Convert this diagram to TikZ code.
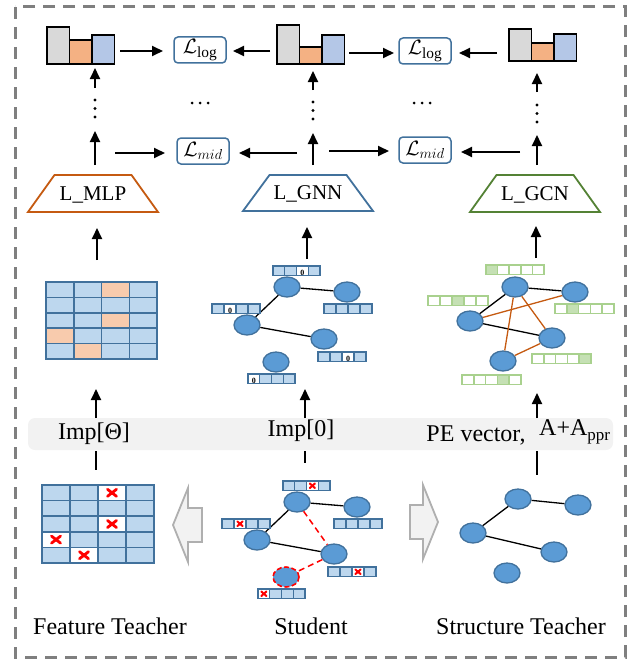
\documentclass[tikz,border=0pt]{standalone}
\usepackage{fontspec}
\setmainfont{Liberation Serif}
\usetikzlibrary{arrows.meta,shapes.geometric}
\definecolor{blueB}{HTML}{41719C}
\definecolor{blueL}{HTML}{BDD7EE}
\definecolor{nodeF}{HTML}{5B9BD5}
\definecolor{orangeC}{HTML}{F8CBAD}
\definecolor{barGray}{HTML}{D9D9D9}
\definecolor{barOrange}{HTML}{F4B183}
\definecolor{barBlue}{HTML}{B4C7E7}
\definecolor{greenB}{HTML}{A9D18E}
\definecolor{greenF}{HTML}{C5E0B4}
\definecolor{trapOrange}{HTML}{C55A11}
\definecolor{trapGreen}{HTML}{548235}
\definecolor{bandF}{HTML}{F2F2F2}
\definecolor{hollowB}{HTML}{AFAFAF}
\definecolor{borderC}{HTML}{7F7F7F}
\definecolor{redX}{HTML}{FF0000}

\newcommand\bvec[6]{%
  \foreach \i in {0,1,2,3}{%
    \ifnum\i=#5\relax\def\cf{white}\else\def\cf{blueL}\fi
    \draw[vcell,fill=\cf] ({#2+\i*#4/4},#3) rectangle ({#2+(\i+1)*#4/4},{#3+9.5});
  }%
  \pgfmathsetmacro\mx{#2+(#5+0.5)*#4/4}%
  \pgfmathsetmacro\my{#3+4.75}%
  \ifcase#6\relax
  \or \node[zerotxt] (#1) at (\mx,\my+2) {0};
  \or \draw[redx] (\mx-2.6,\my-2.3) -- (\mx+2.6,\my+2.3) (\mx-2.6,\my+2.3) -- (\mx+2.6,\my-2.3);
  \fi
}
\newcommand\gvec[4]{%
  \foreach \i in {0,1,2,3,4}{%
    \ifnum\i=#4\relax\def\cf{greenF}\else\def\cf{white}\fi
    \draw[gcell,fill=\cf] ({#1+\i*#3/5},#2) rectangle ({#1+(\i+1)*#3/5},{#2+9.5});
  }%
}
% trapezoid outline: #1 colour, #2 centre x, #3 top y, #4 bottom y
\newcommand\trapline[4]{%
  \draw[draw=#1, line width=1.8, line join=miter] ({#2-65},#4) -- ({#2-38.5},#3) -- ({#2+38.5},#3) -- ({#2+65},#4) -- cycle;
}

\begin{document}
\begin{tikzpicture}[x=1pt,y=-1pt,
  arr/.style={-{Triangle[length=11pt,width=10pt]}, line width=1.8},
  plainline/.style={line width=1.8},
  bar/.style={draw=black, line width=1.8, inner sep=0, outer sep=0, anchor=south west, minimum width=22.5},
  loss/.style={draw=blueB, line width=1.5, rounded corners=4, minimum width=52, minimum height=26, inner sep=0, font=\fontsize{22}{24}\selectfont},
  traptxt/.style={inner sep=0, font=\fontsize{21}{24}\selectfont},
  mcell/.style={draw=blueB, fill=blueL, line width=1.5},
  vcell/.style={draw=blueB, line width=1.3},
  gcell/.style={draw=greenB, line width=1.5},
  zerotxt/.style={inner sep=0, font=\fontsize{8}{8}\selectfont\bfseries},
  redx/.style={draw=redX, line width=2, line cap=round},
  gnode/.style={ellipse, draw=blueB, fill=nodeF, line width=1.3, minimum width=26, minimum height=20, inner sep=0},
  gedge/.style={line width=1.3, black},
  oedge/.style={line width=1.3, trapOrange},
  redge/.style={line width=1.5, redX, dash pattern=on 6pt off 4pt},
  hollow/.style={draw=hollowB, fill=bandF, line width=1.8, line join=miter},
  lbl/.style={inner sep=0, font=\fontsize{24}{28}\selectfont},
  border/.style={draw=borderC, line width=3, dash pattern=on 12pt off 8pt}
]
\useasboundingbox (0,0) rectangle (641,661);
\draw[border] (15,7) rectangle (625,657);

% ---- bar charts ----
\node[bar,fill=barGray,minimum height=37] (c1g) at (47,64) {};
\node[bar,fill=barOrange,minimum height=24] (c1o) at (69.5,64) {};
\node[bar,fill=barBlue,minimum height=29] (c1b) at (92,64) {};
\node[bar,fill=barGray,minimum height=39] (c2g) at (277,64) {};
\node[bar,fill=barOrange,minimum height=17] (c2o) at (299.5,64) {};
\node[bar,fill=barBlue,minimum height=29] (c2b) at (322,64) {};
\node[bar,fill=barGray,minimum height=32] (c3g) at (509,61) {};
\node[bar,fill=barOrange,minimum height=18] (c3o) at (531.5,61) {};
\node[bar,fill=barBlue,minimum height=27] (c3b) at (554,61) {};

% ---- loss boxes ----
\node[loss] (Llog1) at (200,50) {$\mathcal{L}_{\log}$};
\node[loss] (Llog2) at (425,51) {$\mathcal{L}_{\log}$};
\node[loss] (Lmid1) at (203,151) {$\mathcal{L}_{mid}$};
\node[loss] (Lmid2) at (425,150) {$\mathcal{L}_{mid}$};

\coordinate (a1) at (120,51);  \coordinate (a1e) at (163,51);
\coordinate (a2) at (270,51);  \coordinate (a2e) at (233,51);
\coordinate (a3) at (349,53);  \coordinate (a3e) at (394,53);
\coordinate (a4) at (497,53);  \coordinate (a4e) at (459,53);
\draw[arr] (a1) -- (a1e);
\draw[arr] (a2) -- (a2e);
\draw[arr] (a3) -- (a3e);
\draw[arr] (a4) -- (a4e);
\coordinate (m1) at (115,153); \coordinate (m1e) at (165,153);
\coordinate (m2) at (297,153); \coordinate (m2e) at (239,153);
\coordinate (m3) at (329,151); \coordinate (m3e) at (389,151);
\coordinate (m4) at (520,152); \coordinate (m4e) at (461,152);
\draw[arr] (m1) -- (m1e);
\draw[arr] (m2) -- (m2e);
\draw[arr] (m3) -- (m3e);
\draw[arr] (m4) -- (m4e);

% ---- vertical arrows and dots ----
\foreach \x/\ta/\tb/\d/\tc in {95/88/68/100/131, 313/90/71/102/133, 537/92/73/105/135}{
  \coordinate (u\x) at (\x,\ta); \coordinate (ue\x) at (\x,\tb);
  \draw[arr] (u\x) -- (ue\x);
  \fill (\x,\d) circle (1.6) (\x,\d+8.5) circle (1.6) (\x,\d+17) circle (1.6);
  \coordinate (w\x) at (\x,165); \coordinate (we\x) at (\x,\tc);
  \draw[arr] (w\x) -- (we\x);
}
\foreach \x in {192,200,208} \fill (\x,103) circle (1.5);
\foreach \x in {414,422,430} \fill (\x,103) circle (1.5);

% ---- trapezia ----
\trapline{trapOrange}{93}{175}{212}
\trapline{blueB}{308}{175}{211}
\trapline{trapGreen}{535}{175}{212}
\node[traptext/.style={},traptxt] (tMLP) at (93,195) {L\_MLP};
\node[traptxt] (tGNN) at (308,194) {L\_GNN};
\node[traptxt] (tGCN) at (535,195) {L\_GCN};
\coordinate (p1) at (97,260); \coordinate (p1e) at (97,228);
\coordinate (p2) at (307,259); \coordinate (p2e) at (307,227);
\coordinate (p3) at (536,258); \coordinate (p3e) at (536,226);
\draw[arr] (p1) -- (p1e);
\draw[arr] (p2) -- (p2e);
\draw[arr] (p3) -- (p3e);

% ---- feature matrix (top) ----
\foreach \r in {0,...,4}
  \foreach \c in {0,...,3}
    \draw[mcell] ({46+\c*27.75},{282+\r*15.4}) rectangle ++(27.75,15.4);
\foreach \r/\c in {0/2,2/2,3/0,4/1}
  \draw[mcell,fill=orangeC] ({46+\c*27.75},{282+\r*15.4}) rectangle ++(27.75,15.4);

% ---- student graph (top) ----
\node[gnode] (sA) at (287,287) {};
\node[gnode] (sB) at (347,292) {};
\node[gnode] (sC) at (247,325) {};
\node[gnode] (sD) at (324,339) {};
\node[gnode] (sE) at (276,362) {};
\draw[gedge] (sA) -- (sB);
\draw[gedge] (sA) -- (sC);
\draw[gedge] (sC) -- (sD);
\bvec{z1}{273}{266}{47}{2}{1}
\bvec{z2}{212}{304}{48}{1}{1}
\bvec{z3}{324}{304}{48}{-1}{0}
\bvec{z4}{318}{352}{48}{2}{1}
\bvec{z5}{248}{374}{47}{0}{1}

% ---- structure graph (top) ----
\node[gnode] (tA) at (515,287) {};
\node[gnode] (tB) at (575,292) {};
\node[gnode] (tC) at (470,321) {};
\node[gnode] (tD) at (552,338) {};
\node[gnode] (tE) at (503,361) {};
\draw[gedge] (tA) -- (tB);
\draw[gedge] (tA) -- (tC);
\draw[gedge] (tC) -- (tD);
\draw[oedge] (tA) -- (tE);
\draw[oedge] (tA) -- (tD);
\draw[oedge] (tC) -- (tB);
\draw[oedge] (tD) -- (tE);
\gvec{486}{265}{58}{0}
\gvec{428}{296}{60}{2}
\gvec{555}{304}{59}{1}
\gvec{532}{354}{59}{4}
\gvec{462}{375}{59}{3}

% ---- band ----
\node[fill=bandF, rounded corners=7, minimum width=585, minimum height=32, inner sep=0] (band) at (320.5,434) {};
\node[lbl] (impT) at (94,434) {Imp[Θ]};
\node[lbl] (imp0) at (301,431) {Imp[0]};
\node[lbl] (pev) at (476,435) {PE vector,};
\node[lbl,anchor=west] (aapp) at (539,432) {A+A\raisebox{-0.45ex}{\fontsize{17}{18}\selectfont ppr}};

\coordinate (b1) at (96,418); \coordinate (b1e) at (96,389);
\coordinate (b2) at (305,418); \coordinate (b2e) at (305,389);
\coordinate (b3) at (537,418); \coordinate (b3e) at (537,393);
\draw[arr] (b1) -- (b1e);
\draw[arr] (b2) -- (b2e);
\draw[arr] (b3) -- (b3e);
\coordinate (l1) at (96,451); \coordinate (l1e) at (96,470);
\coordinate (l2) at (305,451); \coordinate (l2e) at (305,463);
\coordinate (l3) at (537,451); \coordinate (l3e) at (537,475);
\draw[plainline] (l1) -- (l1e);
\draw[plainline] (l2) -- (l2e);
\draw[plainline] (l3) -- (l3e);

% ---- feature matrix (bottom) ----
\foreach \r in {0,...,4}
  \foreach \c in {0,...,3}
    \draw[mcell] ({42+\c*28},{485+\r*15.6}) rectangle ++(28,15.6);
\foreach \r/\c in {0/2,2/2,3/0,4/1}{
  \draw[mcell,fill=white] ({42+\c*28},{485+\r*15.6}) rectangle ++(28,15.6);
  \draw[redx,line width=2.8] ({42+\c*28+14-4.5},{485+\r*15.6+7.8-3.5}) -- ({42+\c*28+14+4.5},{485+\r*15.6+7.8+3.5})
    ({42+\c*28+14-4.5},{485+\r*15.6+7.8+3.5}) -- ({42+\c*28+14+4.5},{485+\r*15.6+7.8-3.5});
}

% ---- hollow arrows ----
\draw[hollow] (173,525) -- (188,488) -- (188,508) -- (202,508) -- (202,542) -- (188,542) -- (188,562) -- cycle;
\draw[hollow] (438,522) -- (423,485) -- (423,505) -- (410,505) -- (410,539) -- (423,539) -- (423,559) -- cycle;

% ---- student graph (bottom) ----
\node[gnode] (uA) at (297,502) {};
\node[gnode] (uB) at (357,507) {};
\node[gnode] (uC) at (257,540) {};
\node[gnode] (uD) at (334,554) {};
\node[gnode,draw=redX,dash pattern=on 5pt off 2.5pt,line width=1.6] (uE) at (286,577) {};
\draw[gedge] (uA) -- (uB);
\draw[gedge] (uA) -- (uC);
\draw[gedge] (uC) -- (uD);
\draw[redge] (uA) -- (uD);
\draw[redge] (uD) -- (uE);
\bvec{x1}{283}{481}{47}{2}{2}
\bvec{x2}{222}{519}{48}{1}{2}
\bvec{x3}{334}{519}{48}{-1}{0}
\bvec{x4}{328}{567}{48}{2}{2}
\bvec{x5}{258}{589}{47}{0}{2}

% ---- structure graph (bottom) ----
\node[gnode] (vA) at (518,499) {};
\node[gnode] (vB) at (578,505) {};
\node[gnode] (vC) at (473,533) {};
\node[gnode] (vD) at (554,552) {};
\node[gnode] (vE) at (507,573) {};
\draw[gedge] (vA) -- (vB);
\draw[gedge] (vA) -- (vC);
\draw[gedge] (vC) -- (vD);

% ---- labels ----
\node[lbl] (ft) at (110,626) {Feature Teacher};
\node[lbl] (st) at (311,626) {Student};
\node[lbl] (sT) at (521,626) {Structure Teacher};
\end{tikzpicture}
\end{document}
